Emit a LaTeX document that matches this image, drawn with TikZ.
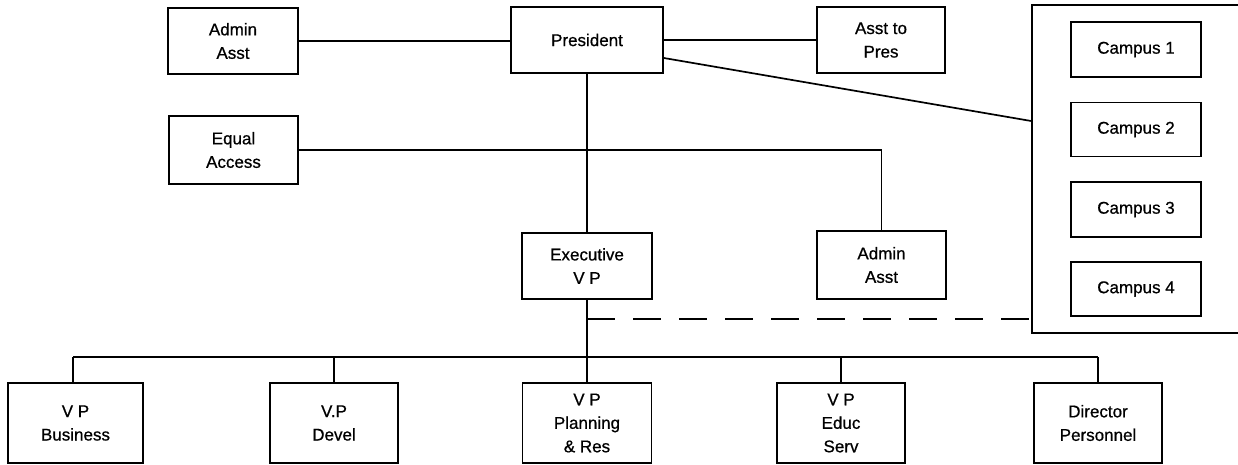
\documentclass[tikz,border=0pt]{standalone}
\usepackage{fontspec}
\setmainfont{Liberation Sans}
\newfontfamily\lblfont{Liberation Sans}[FakeBold=0.7]
\begin{document}
\begin{tikzpicture}[x=1pt,y=-1pt,
  box/.style={draw,line width=1.7pt,inner sep=0pt,align=center,
    font=\lblfont\fontsize{17}{23.5}\selectfont},
  conn/.style={line width=1.7pt},
  dashconn/.style={line width=1.7pt,dash pattern=on 28pt off 18pt}]
\useasboundingbox (0,0) rectangle (1238,465);
% top row
\node[box,minimum width=130pt,minimum height=66pt] (adm1) at (233,41) {Admin\\Asst};
\node[box,minimum width=152pt,minimum height=66pt] (pres) at (587,40) {President};
\node[box,minimum width=128pt,minimum height=66pt] (atp) at (881,40) {Asst to\\Pres};
% campus group
\node[draw,line width=1.7pt,minimum width=218pt,minimum height=328pt,inner sep=0pt] (camp) at (1141,169) {};
\node[box,minimum width=130pt,minimum height=55pt] (c1) at (1136,49.5) {Campus 1};
\node[box,minimum width=130pt,minimum height=54pt] (c2) at (1136,129.5) {Campus 2};
\node[box,minimum width=130pt,minimum height=55pt] (c3) at (1136,209.5) {Campus 3};
\node[box,minimum width=130pt,minimum height=54pt] (c4) at (1136,289) {Campus 4};
% middle
\node[box,minimum width=129pt,minimum height=68pt] (eq) at (233.5,150) {Equal\\Access};
\node[box,minimum width=130pt,minimum height=66pt] (exec) at (587,266) {Executive\\V P};
\node[box,minimum width=129pt,minimum height=68pt] (adm2) at (881.5,265) {Admin\\Asst};
% bottom row
\node[box,minimum width=135pt,minimum height=80pt] (vpb) at (75.5,423) {V P\\Business};
\node[box,minimum width=128pt,minimum height=80pt] (vpd) at (334,423) {V.P\\Devel};
\node[box,minimum width=129pt,minimum height=80pt] (vpp) at (587,423) {V P\\Planning\\\& Res};
\node[box,minimum width=128pt,minimum height=80pt] (vpe) at (841,423) {V P\\Educ\\Serv};
\node[box,minimum width=128pt,minimum height=80pt] (dir) at (1098,423) {Director\\Personnel};
% coordinates
\coordinate (diagA) at ([yshift=-18pt]pres.east);
\coordinate (diagB) at ([yshift=48pt]camp.west);
\coordinate (dashA) at (587,319);
\coordinate (busL) at (73,357);
\coordinate (busR) at (1098,357);
% connectors
\draw[conn] (adm1.east) -- (pres.west |- adm1.east);
\draw[conn] (pres.east) -- (atp.west);
\draw[conn] (diagA) -- (diagB);
\draw[conn] (pres.south) -- (exec.north);
\draw[conn] (eq.east) -- (adm2.north |- eq.east) -- (adm2.north);
\draw[conn] (exec.south) -- (vpp.north);
\draw[dashconn] (dashA) -- (camp.west |- dashA);
\draw[conn] (busL) -- (busR);
\draw[conn] (busL) -- (vpb.north -| busL);
\draw[conn] (vpd.north |- busL) -- (vpd.north);
\draw[conn] (vpe.north |- busL) -- (vpe.north);
\draw[conn] (dir.north |- busL) -- (dir.north);
\end{tikzpicture}
\end{document}
